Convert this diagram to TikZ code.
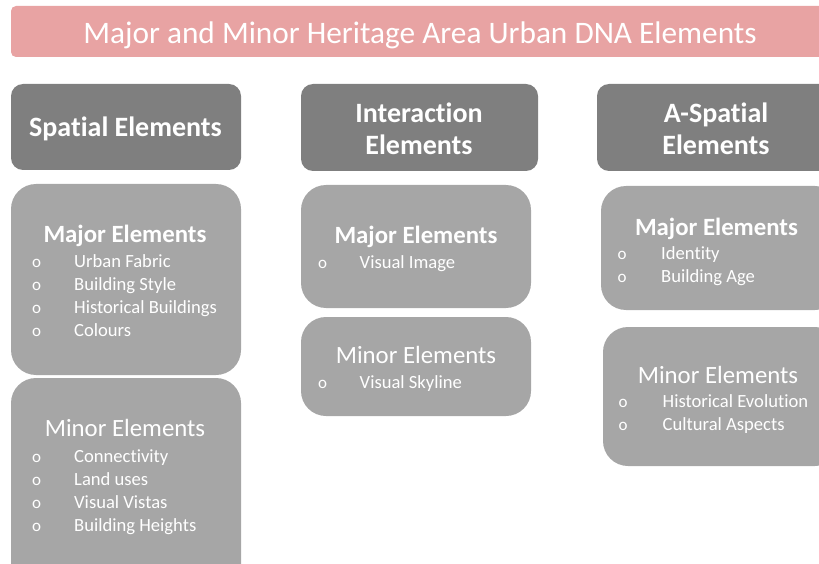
\documentclass[tikz,border=0pt]{standalone}
\usepackage{fontspec}
\setmainfont[Ligatures=NoCommon]{Carlito}
\definecolor{barpink}{RGB}{232,163,163}
\definecolor{hdrgray}{RGB}{127,127,127}
\definecolor{boxgray}{RGB}{166,166,166}
\tikzset{
  titlebar/.style={fill=barpink, rounded corners=5pt, inner sep=0pt},
  hdrbox/.style={fill=hdrgray, rounded corners=12pt, inner sep=0pt},
  elbox/.style={fill=boxgray, rounded corners=25pt, inner sep=0pt},
  titletext/.style={text=white, inner sep=0pt, anchor=base, font=\fontsize{31.3}{37}\selectfont},
  hdrtext/.style={text=white, inner sep=0pt, align=center, font=\fontsize{28}{32}\selectfont\bfseries},
  majtext/.style={text=white, inner sep=0pt, anchor=base, font=\fontsize{24.8}{29}\selectfont\bfseries},
  mintext/.style={text=white, inner sep=0pt, anchor=base, font=\fontsize{24.8}{29}\selectfont},
  itemtext/.style={text=white, inner sep=0pt, anchor=base west, font=\fontsize{18.6}{22}\selectfont},
  bul/.style={text=white, inner sep=0pt, anchor=base, font=\fontsize{17}{20}\selectfont},
}
\begin{document}
\begin{tikzpicture}[x=1pt,y=-1pt]
\useasboundingbox (0,0) rectangle (819,564);
\clip (0,0) rectangle (819,564);
% title
\node[titlebar, minimum width=824pt, minimum height=51pt] (bar) at (423,31.5) {};
\node[titletext] (title) at (420,44) {Major and Minor Heritage Area Urban DNA Elements};
% headers
\node[hdrbox, minimum width=230pt, minimum height=86pt] (hS) at (126,127) {};
\node[hdrbox, minimum width=237pt, minimum height=87pt] (hI) at (419.5,127.5) {};
\node[hdrbox, minimum width=243pt, minimum height=87pt] (hA) at (718.5,127.5) {};
\node[hdrtext, anchor=base] (hSt) at (125.5,137) {Spatial Elements};
\node[hdrtext] (hIt) at (419,129) {Interaction\\Elements};
\node[hdrtext] (hAt) at (716,129) {A-Spatial\\Elements};
% boxes
\node[elbox, minimum width=230pt, minimum height=191pt] (sMaj) at (126,279.5) {};
\node[elbox, minimum width=230pt, minimum height=212pt] (sMin) at (126,484) {};
\node[elbox, minimum width=230pt, minimum height=123pt] (iMaj) at (416,246.5) {};
\node[elbox, minimum width=230pt, minimum height=99pt] (iMin) at (416,366.5) {};
\node[elbox, minimum width=239pt, minimum height=124pt] (aMaj) at (720.5,248) {};
\node[elbox, minimum width=237pt, minimum height=139pt] (aMin) at (721.5,396.5) {};
% spatial major
\node[majtext] (sMajT) at (125,243) {Major Elements};
\node[bul] (sb1) at (36.5,267) {o};
\node[itemtext] (si1) at (74,267) {Urban Fabric};
\node[bul] (sb2) at (36.5,290) {o};
\node[itemtext] (si2) at (74,290) {Building Style};
\node[bul] (sb3) at (36.5,313) {o};
\node[itemtext] (si3) at (74,313) {Historical Buildings};
\node[bul] (sb4) at (36.5,336) {o};
\node[itemtext] (si4) at (74,336) {Colours};
% spatial minor
\node[mintext] (sMinT) at (125,436) {Minor Elements};
\node[bul] (sc1) at (36.5,462) {o};
\node[itemtext] (sj1) at (74,462) {Connectivity};
\node[bul] (sc2) at (36.5,485) {o};
\node[itemtext] (sj2) at (74,485) {Land uses};
\node[bul] (sc3) at (36.5,508) {o};
\node[itemtext] (sj3) at (74,508) {Visual Vistas};
\node[bul] (sc4) at (36.5,531) {o};
\node[itemtext] (sj4) at (74,531) {Building Heights};
% interaction
\node[majtext] (iMajT) at (416,243.5) {Major Elements};
\node[bul] (ib1) at (322.5,268.5) {o};
\node[itemtext] (ii1) at (359.5,268.5) {Visual Image};
\node[mintext] (iMinT) at (416,363.5) {Minor Elements};
\node[bul] (ic1) at (322.5,388.5) {o};
\node[itemtext] (ij1) at (359.5,388.5) {Visual Skyline};
% a-spatial
\node[majtext] (aMajT) at (716.5,235) {Major Elements};
\node[bul] (ab1) at (622,259) {o};
\node[itemtext] (ai1) at (661,259) {Identity};
\node[bul] (ab2) at (622,282) {o};
\node[itemtext] (ai2) at (661,282) {Building Age};
\node[mintext] (aMinT) at (718,383) {Minor Elements};
\node[bul] (ac1) at (623,407) {o};
\node[itemtext] (aj1) at (662.5,407) {Historical Evolution};
\node[bul] (ac2) at (623,430) {o};
\node[itemtext] (aj2) at (662.5,430) {Cultural Aspects};
\end{tikzpicture}
\end{document}
